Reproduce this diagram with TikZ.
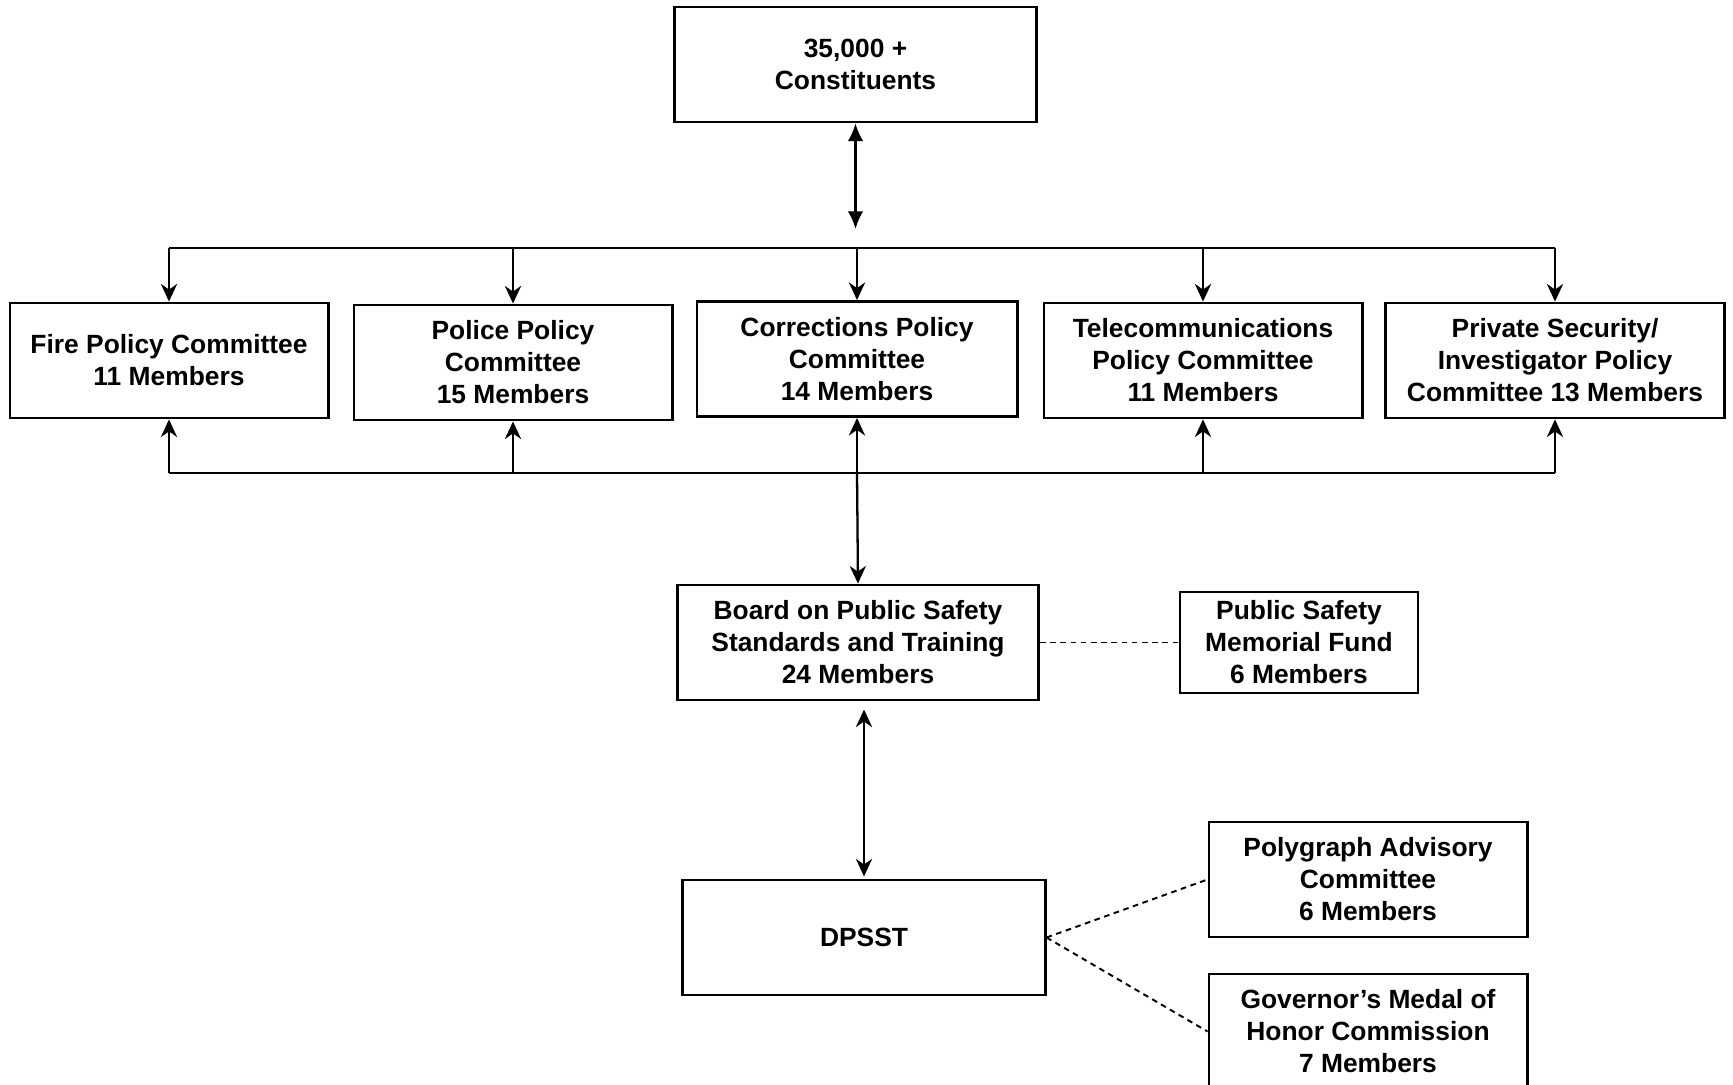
\documentclass[tikz,border=0pt]{standalone}
\usepackage{fontspec}
\setmainfont{Liberation Sans}
\usetikzlibrary{arrows.meta}
\usetikzlibrary{positioning}
\tikzset{box/.style = {draw, line width = 0.8pt, align = center, inner sep = 0pt,
                       minimum width = 3.18cm, minimum height = 1.15cm,
                       font = \bfseries\fontsize{7.5}{9.1}\selectfont},
         link/.style = {line width = 0.65pt},
         tie/.style = {line width = 0.55pt, dash pattern = on 1.6pt off 1.3pt},
         fat/.tip = {Latex[length = 5pt, width = 4.4pt]},
         thin/.tip = {Stealth[length = 5pt, width = 4.6pt, inset = 1.6pt]}}

\begin{document}
\begin{tikzpicture}[x = 0.01cm, y = -0.01cm]
      \useasboundingbox (0, 0) rectangle (1733, 1085);
      \node [box, minimum width = 3.61cm] (crowd) at (855.5, 64.5) {35,000 +\\Constituents};
      \node [box] (fire) at (169, 360.5) {Fire Policy Committee\\11 Members};
      \node [box] (police) at (513, 362.5) {Police Policy\\Committee\\15 Members};
      \node [box, minimum width = 3.2cm] (corr) at (857, 359) {Corrections Policy\\Committee\\14 Members};
      \node [box] (telecom) at (1203, 360.5) {Telecommunications\\Policy Committee\\11 Members};
      \node [box, minimum width = 3.39cm] (privsec) at (1555, 360.5) {Private Security/\\Investigator Policy\\Committee 13 Members};
      \node [box, minimum width = 3.61cm] (board) at (858, 642.5) {Board on Public Safety\\Standards and Training\\24 Members};
      \node [box, minimum width = 2.38cm, minimum height = 1.01cm] (fund) at (1299, 642.5) {Public Safety\\Memorial Fund\\6 Members};
      \node [box, minimum width = 3.62cm] (dpsst) at (864, 937.5) {DPSST};
      \node [box] (poly) at (1368, 879.5) {Polygraph Advisory\\Committee\\6 Members};
      \node [box] (medal) at (1368, 1031.5) {Governor’s Medal of\\Honor Commission\\7 Members};
      \coordinate (topbus) at (169, 248);
      \coordinate (lowbus) at (169, 473);
      \coordinate (crowdend) at (855.5, 229);
      \draw [link, fat-fat] (crowd.south) -- (crowdend);
      \draw [link] (topbus) -- (privsec.north |- topbus);
      \draw [link] (lowbus) -- (privsec.south |- lowbus);
      \foreach \c in {fire, police, corr, telecom, privsec} {
        \draw [link, -thin] (\c.north |- topbus) -- (\c.north);
        \draw [link, -thin] (\c.south |- lowbus) -- (\c.south);
      }
      \draw [link, -thin] (corr.south |- lowbus) -- (board.north);
      \draw [link, thin-thin, shorten < = 2.3pt, shorten > = 0.6pt] (dpsst.north |- board.south) -- (dpsst.north);
      \draw [tie] (board.east) -- (fund.west);
      \draw [tie] (dpsst.east) -- (poly.west);
      \draw [tie] (dpsst.east) -- (medal.west);
    \end{tikzpicture}
\end{document}
